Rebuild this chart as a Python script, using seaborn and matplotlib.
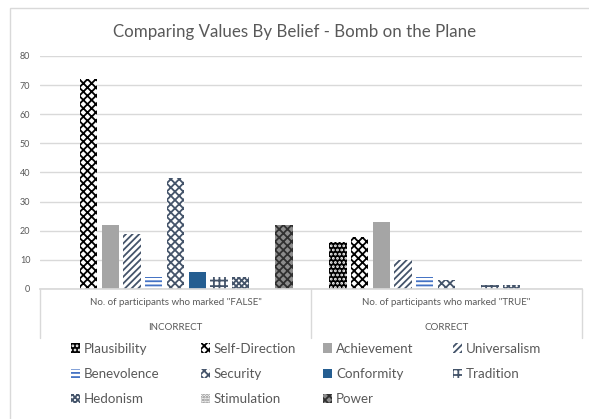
import pandas as pd
import matplotlib
matplotlib.use("Agg")
import matplotlib.pyplot as plt
import matplotlib.patches as mpatches
import matplotlib.transforms as mtransforms
import seaborn as sns

# --- DATA ---
VALUES = ["Plausibility", "Self-Direction", "Achievement", "Universalism",
          "Benevolence", "Security", "Conformity", "Tradition",
          "Hedonism", "Stimulation", "Power"]
CATEGORIES = ['No. of participants who marked "FALSE"',
              'No. of participants who marked "TRUE"']
GROUPS = ["INCORRECT", "CORRECT"]
incorrect_counts = [0, 72, 22, 19, 4, 38, 6, 4, 4, 0, 22]
correct_counts = [16, 18, 23, 10, 4, 3, 0, 1.5, 1.5, 0, 0]

# --- STYLE per series: (face, hatch colour, hatch) ---
STYLES = {
    "Plausibility": ("#000000", "#FFFFFF", "...."),
    "Self-Direction": ("#FFFFFF", "#000000", "xxxx"),
    "Achievement": ("#A5A5A5", "#A5A5A5", ""),
    "Universalism": ("#FFFFFF", "#44546A", "/////"),
    "Benevolence": ("#FFFFFF", "#4472C4", "----"),
    "Security": ("#FFFFFF", "#44546A", "xxxx"),
    "Conformity": ("#255E91", "#255E91", ""),
    "Tradition": ("#FFFFFF", "#44546A", "+++"),
    "Hedonism": ("#FFFFFF", "#44546A", "xxxxxx"),
    "Stimulation": ("#FFFFFF", "#7F7F7F", "......"),
    "Power": ("#8C8C8C", "#303030", "xxxx"),
}

df = pd.DataFrame({
    "category": [CATEGORIES[0]] * len(VALUES) + [CATEGORIES[1]] * len(VALUES),
    "value": VALUES * 2,
    "count": incorrect_counts + correct_counts,
})

sns.set_theme(style="white")
plt.rcParams["font.family"] = ["Lato", "DejaVu Sans"]
plt.rcParams["hatch.linewidth"] = 1.3
TXT = "#595959"
GRID = "#D9D9D9"

fig = plt.figure(figsize=(5.89, 4.19), dpi=100)
ax = fig.add_axes([40 / 589, 130 / 419, 542 / 589, 233 / 419])

sns.barplot(data=df, x="category", y="count", hue="value", hue_order=VALUES,
            order=CATEGORIES, width=0.88, gap=0.2, ax=ax, legend=False)

# apply patterns to bars (seaborn draws hue levels in order)
for container, name in zip(ax.containers, VALUES):
    face, hcol, hatch = STYLES[name]
    for bar in container:
        bar.set_facecolor(face)
        bar.set_edgecolor(hcol)
        bar.set_linewidth(0)
        bar.set_hatch(hatch)

# --- AXES ---
ax.set_ylim(0, 80)
ax.set_yticks(range(0, 81, 10))
ax.set_xlim(-0.5, 1.5)
ax.yaxis.grid(True, color=GRID, linewidth=1)
ax.set_axisbelow(True)
for s in ["top", "right", "left"]:
    ax.spines[s].set_visible(False)
ax.spines["bottom"].set_color(GRID)
ax.tick_params(axis="y", length=0, labelsize=6.5, labelcolor=TXT, pad=7)
ax.tick_params(axis="x", length=0, labelsize=7, labelcolor=TXT, pad=6.5)
ax.set_xlabel("")
ax.set_ylabel("")

# second level of the category axis
trans = mtransforms.blended_transform_factory(ax.transData, ax.transAxes)
for i, g in enumerate(GROUPS):
    ax.text(i, -38.5 / 233, g, transform=trans, ha="center", va="center",
            fontsize=7, color=TXT)
for xv in [-0.5, 0.5, 1.5]:
    ax.plot([xv, xv], [0, -49 / 233], transform=trans, color=GRID,
            linewidth=1, clip_on=False)

# --- TITLE ---
fig.text(0.50, 1 - 32 / 419, "Comparing Values By Belief - Bomb on the Plane",
         ha="center", va="center", fontsize=12.2, color=TXT)

# --- LEGEND: one column at a time so the columns sit like the original ---
col_x = [60, 190, 312, 442]
for c, x0 in enumerate(col_x):
    names = VALUES[c::4]
    handles = []
    for name in names:
        face, hcol, hatch = STYLES[name]
        handles.append(mpatches.Patch(facecolor=face, edgecolor=hcol,
                                      hatch=hatch, linewidth=0, label=name))
    fig.legend(handles, names, loc="upper left",
               bbox_to_anchor=(x0 / 589, 1 - 332 / 419), frameon=False,
               fontsize=9.6, labelcolor=TXT, handlelength=0.7,
               handleheight=0.7, handletextpad=0.3, labelspacing=1.0,
               borderpad=0.3)

# outer chart frame
fig.add_artist(mpatches.Rectangle((10 / 589, -0.1), 1.0, 0.1 + 1 - 8 / 419,
                                  transform=fig.transFigure, fill=False,
                                  edgecolor=GRID, linewidth=1))

fig.savefig("out.png", dpi=100)
